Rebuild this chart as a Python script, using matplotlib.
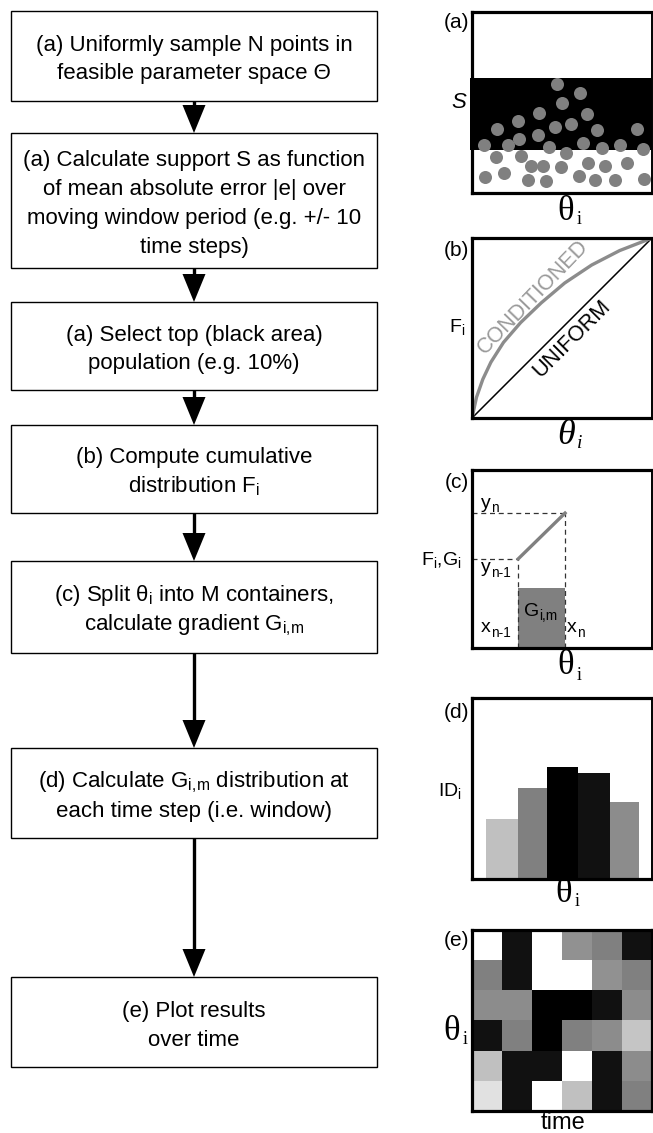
import matplotlib
matplotlib.use('Agg')
import matplotlib.pyplot as plt
import numpy as np

W, H = 653, 1133

plt.rcParams['font.family'] = ['Liberation Sans', 'DejaVu Sans']
plt.rcParams['mathtext.fontset'] = 'custom'
plt.rcParams['mathtext.rm'] = 'Liberation Sans'
plt.rcParams['mathtext.it'] = 'Liberation Sans:italic'

# ---- flowchart steps ----
step_lines = [
    ["(a) Uniformly sample N points in", "feasible parameter space Θ"],
    ["(a) Calculate support S as function", "of mean absolute error |e| over",
     "moving window period (e.g. +/- 10", "time steps)"],
    ["(a) Select top (black area)", "population (e.g. 10%)"],
    ["(b) Compute cumulative", r"distribution $\mathregular{F_i}$"],
    [r"(c) Split $\mathregular{θ_i}$ into M containers,",
     r"calculate gradient $\mathregular{G_{i,\!m}}$"],
    [r"(d) Calculate $\mathregular{G_{i,\!m}}$ distribution at",
     "each time step (i.e. window)"],
    ["(e) Plot results", "over time"],
]
step_top = [11, 133, 302, 425, 561, 748, 977]
step_bottom = [101, 268, 390, 513, 653, 838, 1067]

# ---- panel (a): sampled points, support band ----
dot_x = [0.474, 0.600, 0.498, 0.372, 0.637, 0.257, 0.461, 0.548, 0.141, 0.693,
         0.919, 0.365, 0.263, 0.067, 0.202, 0.430, 0.619, 0.720, 0.822, 0.952,
         0.522, 0.131, 0.272, 0.643, 0.859, 0.328, 0.396, 0.493, 0.739, 0.178,
         0.072, 0.313, 0.411, 0.594, 0.683, 0.794, 0.956]
dot_y = [0.602, 0.551, 0.496, 0.444, 0.435, 0.400, 0.366, 0.381, 0.352, 0.348,
         0.352, 0.320, 0.297, 0.265, 0.265, 0.256, 0.274, 0.247, 0.265, 0.241,
         0.223, 0.197, 0.204, 0.168, 0.168, 0.149, 0.149, 0.146, 0.149, 0.112,
         0.090, 0.072, 0.068, 0.094, 0.072, 0.072, 0.077]
band_low, band_high = 0.238, 0.635

# ---- panel (b): cumulative distributions ----
uniform_x = [0, 1]
uniform_y = [0, 1]
cond_x = [0, 0.025, 0.06, 0.105, 0.175, 0.27, 0.385, 0.515, 0.665, 0.82, 1]
cond_y = [0, 0.115, 0.215, 0.31, 0.42, 0.53, 0.64, 0.75, 0.85, 0.93, 1]

# ---- panel (c): gradient of one container ----
x_prev, x_next = 0.256, 0.517
y_prev, y_next = 0.500, 0.758
g_height = 0.337

# ---- panel (d): gradient distribution ----
bar_left = [0.078, 0.254, 0.417, 0.591, 0.767]
bar_right = [0.254, 0.417, 0.591, 0.767, 0.930]
bar_height = [0.330, 0.501, 0.619, 0.584, 0.424]
bar_grey = ['#c0c0c0', '#808080', '#000000', '#111111', '#8c8c8c']

# ---- panel (e): results over time (grey level, 0 = black) ----
result_grid = [
    [1.00, 0.07, 1.00, 0.57, 0.50, 0.07],
    [0.50, 0.07, 1.00, 1.00, 0.57, 0.50],
    [0.55, 0.55, 0.00, 0.00, 0.07, 0.55],
    [0.07, 0.50, 0.00, 0.50, 0.55, 0.77],
    [0.75, 0.07, 0.07, 1.00, 0.07, 0.55],
    [0.88, 0.07, 1.00, 0.75, 0.07, 0.50],
]

fig = plt.figure(figsize=(W / 100, H / 100), dpi=100)


def px_axes(x0, y0, x1, y1):
    a = fig.add_axes([x0 / W, 1 - y1 / H, (x1 - x0) / W, (y1 - y0) / H])
    a.set_xlim(0, 1)
    a.set_ylim(0, 1)
    a.set_xticks([])
    a.set_yticks([])
    for s in a.spines.values():
        s.set_linewidth(2.3)
    a.spines['right'].set_linewidth(1.4)
    return a


PX0, PX1 = 472, 652
panel_top = [12, 238, 470, 698, 930]
panel_bot = [193, 418, 648, 879, 1111]

# (a)
ax_a = px_axes(PX0, panel_top[0], PX1, panel_bot[0])
ax_a.fill_between([-0.01, 1], band_low, band_high, color='black', lw=0, clip_on=False)
ax_a.scatter(dot_x, dot_y, s=88, color='#808080', lw=0, zorder=3, clip_on=False)

# (b)
ax_b = px_axes(PX0, panel_top[1], PX1, panel_bot[1])
ax_b.plot(uniform_x, uniform_y, color='black', lw=1.1)
ax_b.plot(cond_x, cond_y, color='#8c8c8c', lw=2.4, solid_capstyle='round')

# (c)
ax_c = px_axes(PX0, panel_top[2], PX1, panel_bot[2])
ax_c.bar([x_prev], [g_height], width=x_next - x_prev, align='edge', color='#808080')
dash = dict(color='#333333', lw=0.9, ls=(0, (4, 3)))
ax_c.plot([0, x_next], [y_next, y_next], **dash)
ax_c.plot([x_next, x_next], [0, y_next], **dash)
ax_c.plot([0, x_prev], [y_prev, y_prev], **dash)
ax_c.plot([x_prev, x_prev], [0, y_prev], **dash)
ax_c.plot([x_prev, x_next], [y_prev, y_next], color='#808080', lw=2.4)

# (d)
ax_d = px_axes(PX0, panel_top[3], PX1, panel_bot[3])
ax_d.bar(bar_left, bar_height, width=np.subtract(bar_right, bar_left),
         align='edge', color=bar_grey, lw=0)

# (e)
ax_e = px_axes(PX0, panel_top[4], PX1, panel_bot[4])
ax_e.imshow(result_grid, cmap='gray', vmin=0, vmax=1, aspect='auto',
            extent=(0, 1, 0, 1), interpolation='nearest')
for s in ax_e.spines.values():
    s.set_linewidth(2.3)

# ---- overlay in pixel coordinates (flowchart + labels) ----
ov = fig.add_axes([0, 0, 1, 1])
ov.set_xlim(0, W)
ov.set_ylim(H, 0)
ov.axis('off')

BX0, BX1 = 11, 377
cx = (BX0 + BX1) / 2
for lines, top, bot in zip(step_lines, step_top, step_bottom):
    ov.add_patch(plt.Rectangle((BX0, top), BX1 - BX0, bot - top, fill=False,
                               lw=1.0, ec='black'))
    mid = (top + bot) / 2 + 1.5
    n = len(lines)
    for i, t in enumerate(lines):
        yc = mid + (i - (n - 1) / 2) * 29
        ov.text(cx, yc + 7.5, t, ha='center', va='baseline', fontsize=16)

# arrows between steps
head_len, head_half = 28, 11.5
for bot, nxt in zip(step_bottom[:-1], step_top[1:]):
    ov.plot([cx, cx], [bot, nxt - head_len + 1], color='black', lw=2.4,
            solid_capstyle='butt')
    ov.fill([cx - head_half, cx + head_half, cx],
            [nxt - head_len, nxt - head_len, nxt], color='black', lw=0)

# panel letters
lab_y = [22, 251, 482, 712, 941]
for letter, y in zip('abcde', lab_y):
    ov.text(469, y, '(%s)' % letter, ha='right', va='center', fontsize=15)


def sub_label(x, y, base, sub, size, sub_size=None, **kw):
    t = ov.text(x, y, base, ha='center', va='center', fontsize=size, **kw)
    ov.annotate(sub, xy=(1.0, 0.22), xycoords=t, ha='left', va='center',
                fontsize=sub_size or size * 0.7, **kw)
    return t


serif = 'Liberation Serif'
# theta labels under the panels
theta_pos = [(566, 211), (566, 666), (564, 893), (452, 1031)]
for tx, ty in theta_pos:
    ov.text(tx, ty, 'θ', ha='center', va='center', fontsize=25, family=serif)
    ov.text(tx + 11, ty + 9, 'i', ha='left', va='center', fontsize=13, family=serif)
# italic theta under panel b
ov.text(566, 436, 'θ', ha='center', va='center', fontsize=26, family=serif,
        style='italic')
ov.text(577, 444, 'i', ha='left', va='center', fontsize=14, family=serif,
        style='italic')
ov.text(563, 1123, 'time', ha='center', va='center', fontsize=17)

# axis-side labels
ov.text(459, 103, 'S', ha='center', va='center', fontsize=16, style='italic')
ov.text(465, 327, r'$\mathregular{F_i}$', ha='right', va='center', fontsize=14)
ov.text(462, 560, r'$\mathregular{F_i,\!G_i}$', ha='right', va='center', fontsize=14)
ov.text(462, 791, r'$\mathregular{ID_i}$', ha='right', va='center', fontsize=14)

# panel b curve labels
ov.text(533, 297, 'CONDITIONED', ha='center', va='center', fontsize=15.5,
        rotation=46, color='#9a9a9a', rotation_mode='anchor')
ov.text(572, 339, 'UNIFORM', ha='center', va='center', fontsize=15.5,
        rotation=45, color='black', rotation_mode='anchor')

# panel c annotations
sub_label(486, 503, 'y', 'n', 14)
sub_label(486, 568, 'y', 'n-1', 14)
sub_label(532, 611, 'G', 'i,m', 14)
sub_label(486, 628, 'x', 'n-1', 14)
sub_label(572, 628, 'x', 'n', 14)

fig.savefig('out.png', dpi=100)
